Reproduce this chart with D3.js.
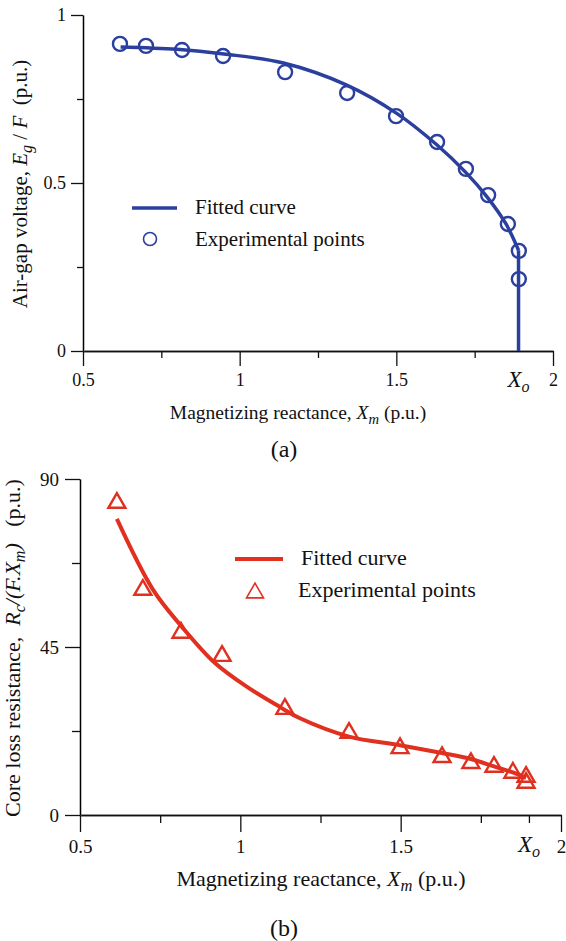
<!DOCTYPE html>
<html>
<head>
<meta charset="utf-8">
<script src="https://cdn.jsdelivr.net/npm/d3@7"></script>
<style>
  body { margin: 0; background: #fff; }
  text { font-family: "Liberation Serif", "Times New Roman", serif; fill: #111; }
  .it { font-style: italic; }
</style>
</head>
<body>
<div id="canvas"></div>
<script>
// constants
const width = 566;
const height = 941;
const blue = '#2b3f9e';
const red = '#e0301f';

// data (a): air-gap voltage vs magnetizing reactance
const xo = 1.89;
const topFitX = [0.62, 0.80, 0.95, 1.14, 1.34, 1.50, 1.63, 1.72, 1.79, 1.85, 1.89];
const topFitY = [0.905, 0.898, 0.884, 0.857, 0.792, 0.708, 0.613, 0.533, 0.458, 0.378, 0.30];
const topPtsX = [0.618, 0.701, 0.816, 0.947, 1.145, 1.343, 1.499, 1.630, 1.722, 1.793, 1.856, 1.891, 1.891];
const topPtsY = [0.914, 0.908, 0.896, 0.878, 0.830, 0.768, 0.699, 0.622, 0.542, 0.464, 0.378, 0.298, 0.214];

// data (b): core loss resistance vs magnetizing reactance
const botFitX = [0.615, 0.728, 0.818, 0.921, 1.021, 1.124, 1.186, 1.339, 1.498, 1.629, 1.719, 1.791, 1.850, 1.891];
const botFitY = [79.3, 60.3, 50.4, 40.7, 34.3, 28.9, 25.9, 21.0, 18.7, 16.6, 15.0, 13.0, 11.4, 9.9];
const botPtsX = [0.615, 0.696, 0.815, 0.943, 1.139, 1.339, 1.498, 1.629, 1.719, 1.791, 1.850, 1.891, 1.891];
const botPtsY = [83.6, 60.3, 48.8, 42.6, 28.4, 22.0, 17.9, 15.5, 13.9, 12.9, 11.3, 10.2, 8.6];

// tick values
const xMajor = [0.5, 1, 1.5, 2];
const xMinor = [0.75, 1.25, 1.75];
const topYMajor = [0, 0.5, 1];
const topYMinor = [0.25, 0.75];
const botYMajor = [0, 45, 90];
const botYMinor = [22.5, 67.5];

// scales
const xTop = d3.scaleLinear().domain([0.5, 2]).range([83, 553]);
const yTop = d3.scaleLinear().domain([0, 1]).range([351, 15]);
const xBot = d3.scaleLinear().domain([0.5, 2]).range([80, 561]);
const yBot = d3.scaleLinear().domain([0, 90]).range([815, 479]);

const svg = d3.select('#canvas')
    .append('svg').attr('width', width).attr('height', height);
svg.append('rect').attr('width', width).attr('height', height).attr('fill', '#fff');

// draws the axes of one panel
function drawAxes(x, y, yMajor, yMinor, o) {
    const g = svg.append('g');
    // x axis
    const xa = g.append('g').attr('transform', `translate(0,${y.range()[0]})`)
        .call(d3.axisBottom(x).tickValues(xMajor).tickSize(o.xMaj).tickSizeOuter(0)
            .tickPadding(o.xPad).tickFormat(d => d));
    xa.append('g').call(d3.axisBottom(x).tickValues(o.xMinor).tickSize(o.xMin)
        .tickSizeOuter(0).tickFormat(''));
    xa.selectAll('path').attr('stroke', '#111').attr('stroke-width', 1.3);
    xa.selectAll('line').attr('stroke', '#111').attr('stroke-width', 1.3);
    xa.selectAll('text').attr('font-size', o.tickFont).attr('fill', '#111')
        .style('font-family', '"Liberation Serif", serif');
    // y axis
    const ya = g.append('g').attr('transform', `translate(${x.range()[0]},0)`)
        .call(d3.axisLeft(y).tickValues(yMajor).tickSize(o.yMaj).tickSizeOuter(0)
            .tickPadding(o.yPad).tickFormat(d => d));
    ya.append('g').call(d3.axisLeft(y).tickValues(yMinor).tickSize(o.yMin)
        .tickSizeOuter(0).tickFormat(''));
    ya.select('path.domain').attr('stroke', '#7a7a7a').attr('stroke-width', 2);
    ya.selectAll('line').attr('stroke', '#111').attr('stroke-width', 1.3);
    ya.selectAll('text').attr('font-size', o.tickFont).attr('fill', '#111')
        .style('font-family', '"Liberation Serif", serif');
    // X_o label
    const t = g.append('text').attr('x', x(o.xo)).attr('y', y.range()[0] + o.xoDy)
        .attr('text-anchor', 'middle').attr('font-size', 23);
    t.append('tspan').attr('class', 'it').text('X');
    t.append('tspan').attr('class', 'it').attr('font-size', 16).attr('dy', 5).text('o');
    return g;
}

// x axis title, "Magnetizing reactance, X_m (p.u.)"
function xTitle(cx, by, size) {
    const t = svg.append('text').attr('x', cx).attr('y', by).attr('text-anchor', 'middle')
        .attr('font-size', size);
    t.append('tspan').text('Magnetizing reactance, ');
    t.append('tspan').attr('class', 'it').text('X');
    t.append('tspan').attr('class', 'it').attr('font-size', size * 0.75).attr('dy', 5).text('m');
    t.append('tspan').attr('dy', -5).text(' (p.u.)');
}

// ---------- panel (a) ----------
drawAxes(xTop, yTop, topYMajor, topYMinor,
    { xMaj: 15, xMin: 7, xPad: 7, yMaj: 12, yMin: 6, yPad: 5, tickFont: 18,
      xMinor: xMinor, xo: xo, xoDy: 36 });

const lineTop = d3.line().x(d => xTop(d[0])).y(d => yTop(d[1])).curve(d3.curveCatmullRom);
const topFit = topFitX.map((v, i) => [v, topFitY[i]]);
svg.append('path').datum(topFit).attr('d', lineTop)
    .attr('fill', 'none').attr('stroke', blue).attr('stroke-width', 3.5);
svg.append('path').datum([[xo, topFitY[topFitY.length - 1]], [xo, 0]])
    .attr('d', d3.line().x(d => xTop(d[0])).y(d => yTop(d[1])))
    .attr('fill', 'none').attr('stroke', blue).attr('stroke-width', 3.5);

svg.append('g').selectAll('circle')
    .data(topPtsX.map((v, i) => [v, topPtsY[i]]))
    .join('circle')
    .attr('cx', d => xTop(d[0])).attr('cy', d => yTop(d[1])).attr('r', 7)
    .attr('fill', 'none').attr('stroke', blue).attr('stroke-width', 2.4);

// legend (a)
svg.append('line').attr('x1', 132).attr('x2', 177).attr('y1', 208).attr('y2', 208)
    .attr('stroke', blue).attr('stroke-width', 3.5);
svg.append('circle').attr('cx', 150).attr('cy', 239).attr('r', 6.5)
    .attr('fill', 'none').attr('stroke', blue).attr('stroke-width', 1.6);
svg.append('text').attr('x', 195).attr('y', 214).attr('font-size', 21).text('Fitted curve');
svg.append('text').attr('x', 195).attr('y', 246).attr('font-size', 21).text('Experimental points');

// y title (a)
const ytA = svg.append('text').attr('transform', 'translate(27,184) rotate(-90)')
    .attr('text-anchor', 'middle').attr('font-size', 21);
ytA.append('tspan').text('Air-gap voltage, ');
ytA.append('tspan').attr('class', 'it').text('E');
ytA.append('tspan').attr('class', 'it').attr('font-size', 16).attr('dy', 5).text('g');
ytA.append('tspan').attr('dy', -5).text(' / ');
ytA.append('tspan').attr('class', 'it').text('F');
ytA.append('tspan').text('\u00a0 (p.u.)');

xTitle(298, 419, 19.5);
svg.append('text').attr('x', 284).attr('y', 457).attr('text-anchor', 'middle')
    .attr('font-size', 24).text('(a)');

// ---------- panel (b) ----------
drawAxes(xBot, yBot, botYMajor, botYMinor,
    { xMaj: 17, xMin: 8, xPad: 8, yMaj: 15, yMin: 8, yPad: 6, tickFont: 19,
      xMinor: xMinor.concat([1.9]), xo: 1.9, xoDy: 37 });

const lineBot = d3.line().x(d => xBot(d[0])).y(d => yBot(d[1])).curve(d3.curveCatmullRom);
svg.append('path').datum(botFitX.map((v, i) => [v, botFitY[i]])).attr('d', lineBot)
    .attr('fill', 'none').attr('stroke', red).attr('stroke-width', 4);

const tri = d3.symbol(d3.symbolTriangle, 125);
svg.append('g').selectAll('path')
    .data(botPtsX.map((v, i) => [v, botPtsY[i]]))
    .join('path')
    .attr('transform', d => `translate(${xBot(d[0])},${yBot(d[1])})`)
    .attr('d', tri)
    .attr('fill', 'none').attr('stroke', red).attr('stroke-width', 2.4);

// legend (b)
svg.append('line').attr('x1', 235).attr('x2', 283).attr('y1', 559).attr('y2', 559)
    .attr('stroke', red).attr('stroke-width', 4);
svg.append('path').attr('transform', 'translate(255,593)').attr('d', tri)
    .attr('fill', 'none').attr('stroke', red).attr('stroke-width', 1.6);
svg.append('text').attr('x', 301).attr('y', 565).attr('font-size', 22).text('Fitted curve');
svg.append('text').attr('x', 298).attr('y', 597).attr('font-size', 22).text('Experimental points');

// y title (b)
const ytB = svg.append('text').attr('transform', 'translate(20,648) rotate(-90)')
    .attr('text-anchor', 'middle').attr('font-size', 22);
ytB.append('tspan').text('Core loss resistance,\u00a0 ');
ytB.append('tspan').attr('class', 'it').text('R');
ytB.append('tspan').attr('class', 'it').attr('font-size', 16).attr('dy', 5).text('c');
ytB.append('tspan').attr('class', 'it').attr('dy', -5).text('/(F.X');
ytB.append('tspan').attr('class', 'it').attr('font-size', 16).attr('dy', 5).text('m');
ytB.append('tspan').attr('class', 'it').attr('dy', -5).text(')');
ytB.append('tspan').text('\u00a0\u00a0 (p.u.)');

xTitle(321, 886, 22);
svg.append('text').attr('x', 284).attr('y', 936).attr('text-anchor', 'middle')
    .attr('font-size', 24).text('(b)');
</script>
</body>
</html>
